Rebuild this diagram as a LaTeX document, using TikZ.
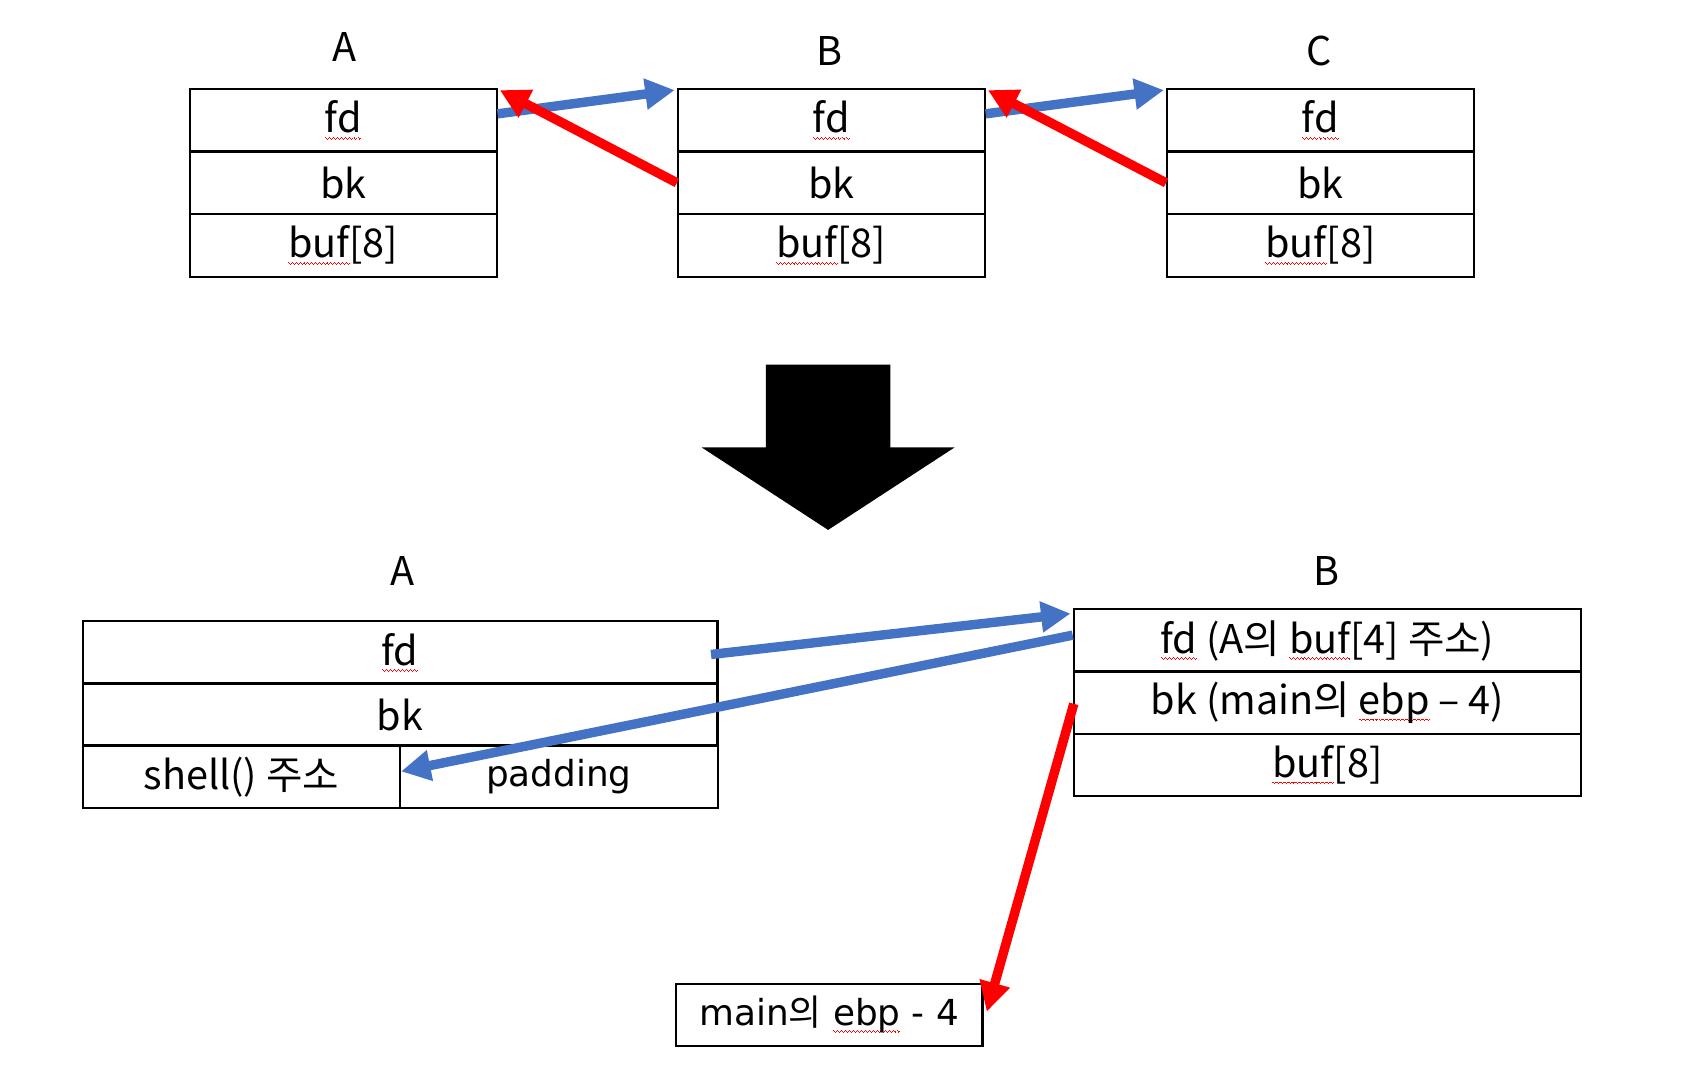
\documentclass[tikz,border=0pt]{standalone}
\usepackage{fontspec}
\setmainfont{Noto Sans CJK KR}
\newfontfamily\widefont{DejaVu Sans}
\newfontfamily\krfont{Noto Sans CJK KR}
\usetikzlibrary{arrows.meta,calc}
\definecolor{oblue}{HTML}{4472C4}
\definecolor{ored}{HTML}{FF0000}
\newcommand\wv{\hbox{%
\vrule height 0.72pt depth -0.28pt width 0.5pt
\vrule height 0.22pt depth 0.22pt width 0.5pt
\vrule height -0.28pt depth 0.72pt width 0.5pt
\vrule height 0.22pt depth 0.22pt width 0.5pt}}
\newcommand\spl[1]{\leavevmode\setbox0\hbox{#1}\rlap{\lower2.8pt\hbox to\wd0{\color{ored}\xleaders\wv\hfill}}\box0\relax}
\begin{document}
\begin{tikzpicture}[x=0.02cm,y=-0.02cm,
  txt/.style={font=\fontsize{21}{25}\selectfont, inner sep=0pt},
  cell/.style={txt, draw, line width=1.1pt, anchor=north west, minimum height=1.166cm},
  top cell/.style={cell, minimum width=5.72cm},
  wide/.style={font=\widefont\fontsize{19}{23}\selectfont},
  bluearrow/.style={draw=oblue, line width=5pt, -{Triangle[length=0.55cm,width=0.55cm]}},
  redarrow/.style={draw=ored, line width=5pt, -{Triangle[length=0.55cm,width=0.55cm]}}]
\useasboundingbox (0,0) rectangle (1568,998);

% ---- top row ----
\node[txt] (la) at (321,44) {A};
\node[txt] (lb) at (773,48) {B};
\node[txt] (lc) at (1230,48) {C};

\node[top cell] (afd) at (176,82) {\spl{fd}};
\node[top cell] (abk) at (176,140.3) {bk};
\node[top cell] (abuf) at (176,198.6) {\spl{buf}[8]};

\node[top cell] (bfd) at (631,82) {\spl{fd}};
\node[top cell] (bbk) at (631,140.3) {bk};
\node[top cell] (bbuf) at (631,198.6) {\spl{buf}[8]};

\node[top cell] (cfd) at (1087,82) {\spl{fd}};
\node[top cell] (cbk) at (1087,140.3) {bk};
\node[top cell] (cbuf) at (1087,198.6) {\spl{buf}[8]};

\draw[bluearrow] ($(afd.east)+(0,-6)$) -- ($(bfd.north west)+(-2,2)$);
\draw[redarrow] (bbk.west) -- ($(afd.north east)+(2,2)$);
\draw[bluearrow] ($(bfd.east)+(0,-6)$) -- ($(cfd.north west)+(-2,2)$);
\draw[redarrow] (cbk.west) -- ($(bfd.north east)+(2,2)$);

% ---- big arrow ----
\fill (714,340) -- (830,340) -- (830,417) -- (890,417) -- (772,494) -- (654,417) -- (714,417) -- cycle;

% ---- bottom ----
\node[txt] (la2) at (375,532) {A};
\node[txt] (lb2) at (1237,532) {B};

\node[cell, minimum width=11.84cm] (a2fd) at (76,578) {\spl{fd}};
\node[cell, minimum width=11.84cm] (a2bk) at (76,636) {bk};
\node[cell, minimum width=5.92cm] (a2shell) at (76,694) {shell() 주소};
\node[cell, minimum width=5.92cm, wide] (a2pad) at (372,694) {padding};

\node[cell, minimum width=9.46cm] (b2fd) at (1000,567) {\spl{fd} (A의 \spl{buf}[4] 주소)};
\node[cell, minimum width=9.46cm] (b2bk) at (1000,625) {bk (main의 \spl{ebp} – 4)};
\node[cell, minimum width=9.46cm] (b2buf) at (1000,683) {\spl{buf}[8]};

\node[cell, minimum width=5.72cm, wide] (mb) at (629,916) {main{\krfont 의} \spl{ebp} - 4};

\draw[bluearrow] ($(a2fd.east)+(-7,2)$) -- ($(b2fd.north west)+(-2,5)$);
\draw[bluearrow] ($(b2fd.west)+(0,-5)$) -- ($(a2shell.east)+(0,-5)$);
\draw[redarrow] ($(b2bk.west)+(1,1)$) -- ($(mb.east)+(3,-3)$);
\end{tikzpicture}
\end{document}
